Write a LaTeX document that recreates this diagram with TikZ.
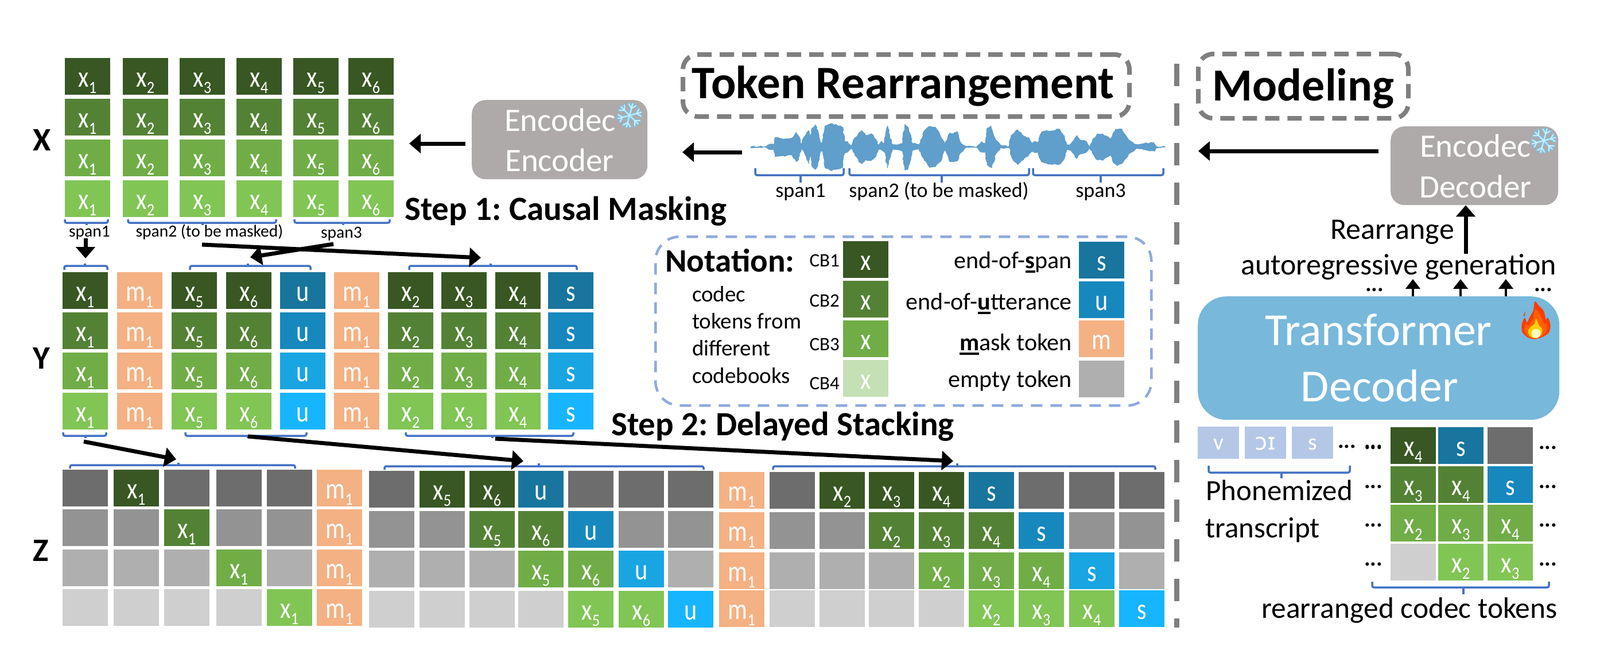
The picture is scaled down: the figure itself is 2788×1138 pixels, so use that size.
\documentclass[tikz,border=0pt]{standalone}
\usepackage{fontspec}
\usepackage{graphicx}
\setmainfont{Carlito}
\newfontfamily\ipafont{DejaVu Sans}
\usetikzlibrary{arrows.meta,decorations.pathmorphing}
\definecolor{gA}{HTML}{385723}\definecolor{gB}{HTML}{548235}\definecolor{gC}{HTML}{70AD47}\definecolor{gD}{HTML}{81C555}
\definecolor{gL}{HTML}{C5E0B4}
\definecolor{bA}{HTML}{18759E}\definecolor{bB}{HTML}{1788BE}\definecolor{bC}{HTML}{19A5E2}\definecolor{bD}{HTML}{17B5FF}
\definecolor{eA}{HTML}{6D6D6D}\definecolor{eB}{HTML}{939393}\definecolor{eC}{HTML}{AFAFAF}\definecolor{eD}{HTML}{CFCFCF}
\definecolor{mO}{HTML}{F4B183}\definecolor{boxG}{HTML}{AEAAAA}\definecolor{tfB}{HTML}{78B8DB}\definecolor{phB}{HTML}{B4C7E7}
\definecolor{wave}{HTML}{609ECB}\definecolor{brk}{HTML}{4472C4}\definecolor{dashG}{HTML}{7F7F7F}\definecolor{dashB}{HTML}{8FAADC}
\definecolor{snowC}{HTML}{74CBF6}
\newcommand{\fsz}[1]{\fontsize{#1}{#1}\selectfont}
\newcommand{\gl}[1]{\scalebox{.92}[1.12]{#1}}
\newcommand{\subn}[1]{\raisebox{-11pt}{\scalebox{.88}[1]{\fsz{30}#1}}}
\newcommand{\xs}[1]{\gl{x}\subn{#1}}
\newcommand{\ms}{\gl{m}\subn{1}}
\newcommand{\ulb}[1]{{\setbox0\hbox{\textbf{#1}}\rlap{\rule[-8pt]{\wd0}{4pt}}\box0}}
\newcommand{\brkt}[6]{\draw[brkline] (#1,#3) -- (#1,#4) -- (#2,#4) -- (#2,#3); \draw[brkline,rounded corners=0pt] (#5,#4) -- (#5,#6);}
\newcommand{\snow}[3]{\begin{scope}[shift={(#1,#2)}]
\foreach \a in {0,60,...,300}{\begin{scope}[rotate=\a+15]
\draw[snowout,line width=#3*0.2pt] (0,0) -- (#3,0) (#3*0.6,0) -- (#3*0.9,#3*0.3) (#3*0.6,0) -- (#3*0.9,-#3*0.3);
\end{scope}}
\foreach \a in {0,60,...,300}{\begin{scope}[rotate=\a+15]
\draw[snowin,line width=#3*0.08pt] (0,0) -- (#3,0) (#3*0.6,0) -- (#3*0.9,#3*0.3) (#3*0.6,0) -- (#3*0.9,-#3*0.3);
\end{scope}}
\end{scope}}
\tikzset{
 tok/.style={anchor=north west,minimum width=79pt,inner sep=0pt,outer sep=0pt,text height=50pt,text depth=14pt,text=white,font=\fsz{46}},
 brkline/.style={draw=brk,line width=3.5pt,rounded corners=3pt},
 bigarrow/.style={-{Triangle[length=20pt,width=33pt]},line width=7pt,black},
 smallarrow/.style={-{Triangle[length=17pt,width=25pt]},line width=4.5pt,black},
 titlebox/.style={draw=dashG,line width=8pt,dash pattern=on 25pt off 14pt,rounded corners=26pt,fill=white,inner sep=0pt,anchor=north west},
 lbl/.style={inner sep=0pt,anchor=base},
 lblw/.style={inner sep=0pt,anchor=base west},
 lble/.style={inner sep=0pt,anchor=base east},
 graybox/.style={fill=boxG,rounded corners=24pt,inner sep=0pt,anchor=north west},
 dotsl/.style={inner sep=0pt,anchor=base,font=\bfseries\fsz{40}},
 snowout/.style={draw=snowC,line cap=round},
 snowin/.style={draw=white!70!snowC,line cap=round},
}
\begin{document}
\frenchspacing
\begin{tikzpicture}[x=1pt,y=-1pt]
\useasboundingbox (0,0) rectangle (2788,1138);
% X grid
\foreach \r/\y/\c in {1/101/gA,2/172/gB,3/243/gC,4/314/gD}
 \foreach \n/\x in {1/113,2/214,3/313,4/412,5/511,6/607}
  \node[tok,fill=\c] (X\r\n) at (\x,\y) {\xs{\n}};
% Y grid
\foreach \r/\y/\c/\b in {1/474/gA/bA,2/544/gB/bB,3/614/gC/bC,4/684/gD/bD}{
 \foreach \n/\x/\t in {a/109/1,c/299/5,d/394/6,g/676/2,h/769/3,i/863/4}
  \node[tok,fill=\c] (Y\r\n) at (\x,\y) {\xs{\t}};
 \foreach \n/\x in {b/204,f/582}
  \node[tok,fill=mO] (Y\r\n) at (\x,\y) {\ms};
 \node[tok,fill=\b] (Y\r e) at (488,\y) {\gl{u}};
 \node[tok,fill=\b] (Y\r j) at (955,\y) {\gl{s}};
}
% Z grid
\foreach \r/\yL/\yM/\yR/\g/\b/\e in {0/818/820/822/gA/bA/eA,1/887/890/892/gB/bB/eB,2/957/959/962/gC/bC/eC,3/1026/1029/1028/gD/bD/eD}{
 \foreach \i/\x in {0/109,1/198,2/286,3/377,4/465}{
  \pgfmathtruncatemacro\d{\i-\r}
  \ifnum\d=1 \def\fc{\g}\def\tx{\xs{1}}\else\def\fc{\e}\def\tx{}\fi
  \node[tok,fill=\fc] (Zl\r\i) at (\x,\yL) {\tx};
 }
 \node[tok,fill=mO] (Zma\r) at (552,\yL) {\ms};
 \foreach \i/\x in {0/643,1/731,2/818,3/903,4/990,5/1078,6/1164}{
  \pgfmathtruncatemacro\d{\i-\r}
  \ifcase\d \def\fc{\e}\def\tx{}\or\def\fc{\g}\def\tx{\xs{5}}\or\def\fc{\g}\def\tx{\xs{6}}\or\def\fc{\b}\def\tx{\gl{u}}\else\def\fc{\e}\def\tx{}\fi
  \node[tok,fill=\fc] (Zc\r\i) at (\x,\yM) {\tx};
 }
 \node[tok,fill=mO] (Zmb\r) at (1253,\yR) {\ms};
 \foreach \i/\x in {0/1341,1/1428,2/1514,3/1601,4/1688,5/1775,6/1863,7/1950}{
  \pgfmathtruncatemacro\d{\i-\r}
  \ifcase\d \def\fc{\e}\def\tx{}\or\def\fc{\g}\def\tx{\xs{2}}\or\def\fc{\g}\def\tx{\xs{3}}\or\def\fc{\g}\def\tx{\xs{4}}\or\def\fc{\b}\def\tx{\gl{s}}\else\def\fc{\e}\def\tx{}\fi
  \node[tok,fill=\fc] (Zr\r\i) at (\x,\yR) {\tx};
 }
}
% row labels
\node[lbl,font=\bfseries\fsz{57}] (labX) at (73,262) {X};
\node[lbl,font=\bfseries\fsz{57}] (labY) at (72,642) {Y};
\node[lbl,font=\bfseries\fsz{57}] (labZ) at (71,977) {Z};
% X brackets and labels
\brkt{113}{188}{382}{388}{151}{392}
\brkt{223}{481}{382}{388}{353}{392}
\brkt{513}{679}{382}{388}{598}{392}
\node[lbl,font=\fsz{29.5}] (sp1x) at (156,412) {span1};
\node[lbl,font=\fsz{29.5}] (sp2x) at (365,412) {span2 (to be masked)};
\node[lbl,font=\fsz{29.5}] (sp3x) at (595,414) {span3};
% Y brackets
\brkt{112}{187}{470}{463}{148}{459}
\brkt{331}{541}{470}{463}{432}{459}
\brkt{713}{1005}{470}{463}{855}{459}
\brkt{110}{185}{753}{759}{149}{763}
\brkt{323}{534}{753}{759}{432}{763}
\brkt{707}{999}{753}{759}{858}{763}
% Z brackets
\brkt{122}{514}{816}{810}{311}{806}
\brkt{670}{1226}{818}{812}{939}{807}
\brkt{1347}{2013}{818}{812}{1668}{807}
% mid arrows
\coordinate (a1s) at (149,415); \coordinate (a1e) at (149,450);
\coordinate (a2s) at (581,425); \coordinate (a2e) at (436,448);
\coordinate (a3s) at (352,426); \coordinate (a3e) at (838,449);
\coordinate (a4s) at (146,769); \coordinate (a4e) at (307,800);
\coordinate (a5s) at (432,760); \coordinate (a5e) at (912,803);
\coordinate (a6s) at (863,764); \coordinate (a6e) at (1661,803);
\draw[bigarrow] (a1s) -- (a1e);
\draw[bigarrow] (a2s) -- (a2e);
\draw[bigarrow] (a3s) -- (a3e);
\draw[bigarrow] (a4s) -- (a4e);
\draw[bigarrow] (a5s) -- (a5e);
\draw[bigarrow] (a6s) -- (a6e);
% step labels
\node[lblw,font=\bfseries\fsz{59}] (st1) at (705,383) {Step 1: Causal Masking};
\node[lblw,font=\bfseries\fsz{59}] (st2) at (1065,758) {Step 2: Delayed Stacking};
% Encoder
\node[graybox,minimum width=306pt,minimum height=138pt] (enc) at (822,174) {};
\node[lbl,text=white,font=\fsz{57}] (encA) at (976,228) {Encodec};
\node[lbl,text=white,font=\fsz{57}] (encB) at (975,298) {Encoder};
\snow{1097}{201}{21}
\coordinate (encOut) at (811,250); \coordinate (gridIn) at (713,250);
\draw[bigarrow] (encOut) -- (gridIn);
% Token Rearrangement title
\node[titlebox,minimum width=778pt,minimum height=108pt] (trBox) at (1186,91) {};
\node[lbl,font=\bfseries\fsz{81}] (trText) at (1574,171) {Token Rearrangement};
% waveform
\begin{scope}[shift={(1300,200)},x=0.33333pt,y=-0.33333pt]
\fill[wave,draw=wave,line width=1pt,line join=round,decorate,decoration={random steps,segment length=4pt,amplitude=1.2pt}] (25,167) -- (105,165) -- (125,153) -- (145,155) -- (152,118) -- (175,122) -- (210,125) -- (240,122) -- (262,92) -- (275,110) -- (288,157) -- (300,120) -- (328,82) -- (335,130) -- (345,70) -- (362,52) -- (375,80) -- (390,150) -- (400,142) -- (412,60) -- (440,47) -- (470,50) -- (505,65) -- (515,140) -- (530,140) -- (550,162) -- (560,135) -- (590,95) -- (605,82) -- (625,108) -- (655,98) -- (680,130) -- (692,158) -- (708,138) -- (722,150) -- (735,70) -- (740,58) -- (750,100) -- (765,155) -- (800,155) -- (818,150) -- (830,50) -- (845,62) -- (862,115) -- (870,150) -- (905,155) -- (930,85) -- (955,62) -- (990,65) -- (1015,110) -- (1040,155) -- (1065,95) -- (1080,100) -- (1105,88) -- (1125,150) -- (1150,165) -- (1205,168) -- (1230,140) -- (1252,150) -- (1260,70) -- (1280,58) -- (1305,130) -- (1330,158) -- (1375,165) -- (1385,110) -- (1420,78) -- (1450,110) -- (1480,120) -- (1495,150) -- (1510,138) -- (1525,145) -- (1545,90) -- (1580,85) -- (1640,75) -- (1665,110) -- (1675,155) -- (1690,158) -- (1730,108) -- (1745,130) -- (1780,140) -- (1798,165) -- (1810,135) -- (1835,100) -- (1865,100) -- (1905,125) -- (1930,75) -- (1965,75) -- (2000,130) -- (2040,155) -- (2080,150) -- (2130,145) -- (2145,165) -- (2190,167)
 -- (2190,169) -- (2145,172) -- (2135,190) -- (2080,182) -- (2040,175) -- (2000,205) -- (1965,255) -- (1940,265) -- (1920,250) -- (1905,210) -- (1865,238) -- (1835,235) -- (1810,200) -- (1798,172) -- (1780,195) -- (1745,205) -- (1730,228) -- (1695,185) -- (1675,178) -- (1665,225) -- (1640,258) -- (1580,258) -- (1545,245) -- (1525,195) -- (1510,198) -- (1495,190) -- (1480,205) -- (1450,235) -- (1420,260) -- (1390,225) -- (1375,172) -- (1330,172) -- (1305,205) -- (1285,275) -- (1260,260) -- (1252,195) -- (1230,195) -- (1205,170) -- (1150,170) -- (1125,195) -- (1105,240) -- (1080,245) -- (1065,245) -- (1040,180) -- (1015,245) -- (990,270) -- (960,275) -- (930,230) -- (905,180) -- (870,185) -- (862,220) -- (845,285) -- (830,288) -- (818,190) -- (765,180) -- (750,230) -- (738,278) -- (728,200) -- (700,180) -- (692,180) -- (680,215) -- (655,238) -- (625,235) -- (605,255) -- (590,245) -- (560,195) -- (550,175) -- (530,195) -- (515,200) -- (505,275) -- (470,285) -- (440,290) -- (412,275) -- (402,190) -- (390,190) -- (375,265) -- (362,285) -- (345,270) -- (335,210) -- (328,255) -- (300,185) -- (288,180) -- (275,235) -- (262,245) -- (240,210) -- (175,215) -- (152,218) -- (145,182) -- (125,183) -- (105,170) -- (25,170) -- cycle;
\end{scope}
\coordinate (waveOut) at (1293,265); \coordinate (waveIn) at (1189,265);
\draw[bigarrow] (waveOut) -- (waveIn);
\brkt{1316}{1470}{293}{305}{1395}{318}
\brkt{1480}{1793}{293}{305}{1641}{318}
\brkt{1800}{2027}{293}{305}{1918}{318}
\node[lbl,font=\fsz{36}] (sp1w) at (1395,343) {span1};
\node[lbl,font=\fsz{36}] (sp2w) at (1636,343) {span2 (to be masked)};
\node[lbl,font=\fsz{36}] (sp3w) at (1918,343) {span3};
% Notation box
\node[draw=dashB,line width=4.5pt,dash pattern=on 20pt off 14pt,rounded corners=42pt,inner sep=0pt,anchor=north west,minimum width=864pt,minimum height=294pt] (notBox) at (1140,410) {};
\node[lblw,font=\bfseries\fsz{57}] (notT) at (1159,473) {Notation:};
\node[lblw,font=\fsz{39}] (n1) at (1206,525) {codec};
\node[lblw,font=\fsz{39}] (n2) at (1206,572) {tokens from};
\node[lblw,font=\fsz{39}] (n3) at (1206,619) {different};
\node[lblw,font=\fsz{39}] (n4) at (1206,667) {codebooks};
\node[lble,font=\fsz{33}] (cb1) at (1463,464) {CB1};
\node[lble,font=\fsz{33}] (cb2) at (1463,534) {CB2};
\node[lble,font=\fsz{33}] (cb3) at (1463,610) {CB3};
\node[lble,font=\fsz{33}] (cb4) at (1463,678) {CB4};
\node[tok,fill=gA] (sw1) at (1469,420) {\gl{x}};
\node[tok,fill=gB] (sw2) at (1469,489) {\gl{x}};
\node[tok,fill=gC] (sw3) at (1469,558) {\gl{x}};
\node[tok,fill=gL] (sw4) at (1469,627) {\gl{x}};
\node[tok,fill=bA] (swS) at (1880,421) {\gl{s}};
\node[tok,fill=bB] (swU) at (1880,490) {\gl{u}};
\node[tok,fill=mO] (swM) at (1880,558) {\gl{m}};
\node[tok,fill=eC] (swE) at (1880,628) {};
\node[lble,font=\fsz{42}] (eS) at (1868,467) {end-of-\ulb{s}pan};
\node[lble,font=\fsz{42}] (eU) at (1868,539) {end-of-\ulb{u}tterance};
\node[lble,font=\fsz{42}] (eM) at (1868,610) {\ulb{m}ask token};
\node[lble,font=\fsz{42}] (eE) at (1868,674) {empty token};
% vertical divider
\coordinate (divT) at (2050,111); \coordinate (divB) at (2050,1093);
\draw[dashG,line width=9pt,dash pattern=on 39pt off 30pt] (divT) -- (divB);
% Modeling
\node[titlebox,minimum width=366pt,minimum height=112pt] (modBox) at (2084,90) {};
\node[lbl,font=\bfseries\fsz{80}] (modT) at (2271,175) {Modeling};
\node[graybox,minimum width=292pt,minimum height=137pt] (dec) at (2423,220) {};
\node[lbl,text=white,font=\fsz{57}] (decA) at (2571,273) {Encodec};
\node[lbl,text=white,font=\fsz{57}] (decB) at (2571,344) {Decoder};
\snow{2690}{245}{21}
\coordinate (decOut) at (2402,263); \coordinate (decIn) at (2088,263);
\draw[bigarrow] (decOut) -- (decIn);
\node[lble,font=\fsz{52}] (rear) at (2534,416) {Rearrange};
\node[lbl,font=\fsz{52}] (auto) at (2437,478) {autoregressive generation};
\coordinate (upS) at (2554,442);
\draw[bigarrow] (upS) -- (dec.south -| upS);
% Transformer
\node[fill=tfB,rounded corners=50pt,inner sep=0pt,anchor=north west,minimum width=630pt,minimum height=215pt] (tf) at (2087,516) {};
\node[lbl,text=white,font=\fsz{80}] (tfA) at (2402,601) {Transformer};
\node[lbl,text=white,font=\fsz{80}] (tfB) at (2404,699) {Decoder};
\foreach \n/\x in {a/2462,b/2545,c/2624}{
 \coordinate (up\n) at (\x,486);
 \draw[smallarrow] (tf.north -| up\n) -- (up\n);
}
\node[dotsl] (dt1) at (2395,507) {...};
\node[dotsl] (dt2) at (2689,507) {...};
% flame
\begin{scope}[shift={(2630,510)},x=0.33333pt,y=-0.33333pt]
\fill[orange!30!red!90!yellow] plot[smooth cycle,tension=.5] coordinates {(133,45) (155,68) (178,92) (187,120) (190,142) (202,130) (215,170) (205,210) (170,232) (130,242) (95,232) (68,205) (65,165) (80,130) (92,155) (105,130) (125,92)};
\fill[orange!30!red!90!yellow] (85,95) -- (72,120) -- (80,122) -- cycle;
\fill[orange!75!red] plot[smooth cycle,tension=.5] coordinates {(135,85) (165,120) (180,160) (195,160) (195,195) (170,225) (130,235) (95,225) (78,195) (85,165) (100,170) (125,130)};
\fill[yellow!70!orange] plot[smooth cycle,tension=.6] coordinates {(140,135) (155,170) (172,190) (165,220) (140,237) (110,228) (98,200) (115,175) (130,165)};
\fill[yellow!25] (140,212) ellipse (24 and 24);
\end{scope}
% phonemes
\foreach \n/\x/\t in {a/2087/v,b/2169/{\ipafont ɔɪ},c/2251/s}
 \node[anchor=north west,fill=phB,inner sep=0pt,minimum width=72pt,text height=40pt,text depth=16pt,text=white,font=\fsz{40}] (ph\n) at (\x,743) {\t};
\node[dotsl] (dt3) at (2347,780) {...};
\node[dotsl] (dt4) at (2393,780) {...};
\brkt{2106}{2352}{811}{823}{2233}{833}
\node[lblw,font=\fsz{51}] (phA) at (2101,871) {Phonemized};
\node[lblw,font=\fsz{51}] (phB) at (2100,936) {transcript};
% small grid
\foreach \r/\y/\g/\b/\e in {0/744/gA/bA/eA,1/812/gB/bB/eB,2/879/gC/bC/eC,3/947/gD/bD/eD}{
 \foreach \i/\x in {0/2423,1/2506,2/2592}{
  \pgfmathtruncatemacro\d{\i-\r+3}
  \ifcase\d \def\fc{\e}\def\tx{}\or\def\fc{\g}\def\tx{\xs{2}}\or\def\fc{\g}\def\tx{\xs{3}}\or\def\fc{\g}\def\tx{\xs{4}}\or\def\fc{\b}\def\tx{\gl{s}}\else\def\fc{\e}\def\tx{}\fi
  \node[tok,fill=\fc] (G\r\i) at (\x,\y) {\tx};
 }
 \pgfmathtruncatemacro\yy{\y+38}
 \node[dotsl] (Gl\r) at (2393,\yy) {...};
 \node[dotsl] (Gr\r) at (2697,\yy) {...};
}
\brkt{2391}{2699}{1013}{1023}{2550}{1035}
\node[lbl,font=\fsz{51.5}] (rct) at (2456,1076) {rearranged codec tokens};
\end{tikzpicture}
\end{document}
